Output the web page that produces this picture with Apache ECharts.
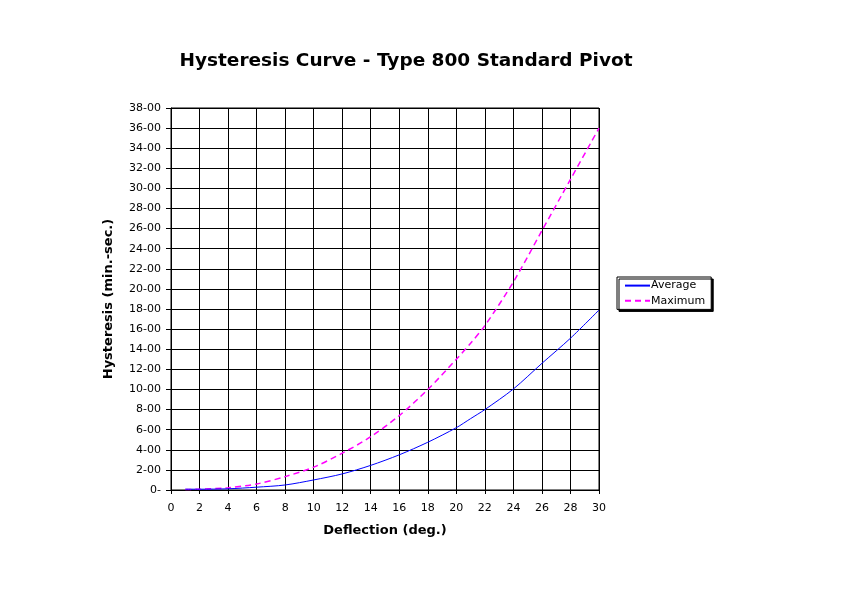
<!DOCTYPE html>
<html>
<head>
<meta charset="utf-8">
<script src="https://cdn.jsdelivr.net/npm/echarts@6/dist/echarts.min.js"></script>
<style>
html,body{margin:0;padding:0;background:#fff;}
#chart{width:843px;height:612px;}
</style>
</head>
<body>
<div id="chart"></div>
<script>
const deflection = [1, 2, 4, 6, 8, 10, 12, 14, 16, 18, 20, 21, 22, 24, 26, 28, 30];
const averageVals = [0.08, 0.08, 0.12, 0.28, 0.5, 1.0, 1.6, 2.45, 3.5, 4.75, 6.2, 7.1, 8.0, 10.05, 12.6, 15.1, 17.9];
const maximumVals = [0.05, 0.08, 0.22, 0.6, 1.33, 2.27, 3.66, 5.3, 7.4, 10.0, 13.0, 14.6, 16.35, 20.7, 25.8, 30.9, 36.0];
const seriesNames = ['Average', 'Maximum'];

const chart = echarts.init(document.getElementById('chart'));
const wide = 'DejaVu Sans, sans-serif';
chart.setOption({
  animation: false,
  backgroundColor: '#fff',
  title: {
    text: 'Hysteresis Curve - Type 800 Standard Pivot',
    left: 401, top: 47, textAlign: 'center',
    textStyle: {fontFamily: wide, fontSize: 18.5, fontWeight: 'bold', color: '#000'}
  },
  legend: {
    orient: 'vertical', left: 617, top: 277,
    backgroundColor: '#fff', borderColor: '#000', borderWidth: 1, borderRadius: 0,
    shadowColor: '#000', shadowOffsetX: 2, shadowOffsetY: 2, shadowBlur: 0,
    padding: [3, 6, 3, 7], itemGap: 4, itemWidth: 25, itemHeight: 14,
    itemStyle: {opacity: 0},
    data: seriesNames,
    textStyle: {fontFamily: wide, fontSize: 11, color: '#000', padding: [0, 0, 0, -4]}
  },
  grid: {left: 171, right: 244, top: 108, bottom: 122, show: true, borderColor: '#000', borderWidth: 1},
  xAxis: {
    type: 'value', min: 0, max: 30, interval: 2,
    name: 'Deflection (deg.)', nameLocation: 'middle', nameGap: 34,
    nameTextStyle: {fontFamily: wide, fontSize: 13, fontWeight: 'bold', color: '#000'},
    axisLine: {lineStyle: {color: '#000', width: 1}},
    axisTick: {show: true, length: 4, lineStyle: {color: '#000'}},
    axisLabel: {fontFamily: wide, fontSize: 11, color: '#000', margin: 13},
    splitLine: {show: true, lineStyle: {color: '#000', width: 1}}
  },
  yAxis: {
    type: 'value', min: 0, max: 38, interval: 2,
    name: 'Hysteresis (min.-sec.)', nameLocation: 'middle', nameGap: 56,
    nameTextStyle: {fontFamily: wide, fontSize: 13, fontWeight: 'bold', color: '#000'},
    axisLine: {show: true, lineStyle: {color: '#000', width: 1}},
    axisTick: {show: true, length: 5, lineStyle: {color: '#000'}},
    axisLabel: {fontFamily: wide, fontSize: 11, color: '#000', margin: 10,
      formatter: v => v === 0 ? '0-' : v + '-00'},
    splitLine: {show: true, lineStyle: {color: '#000', width: 1}}
  },
  series: [
    {
      name: seriesNames[0], type: 'line', smooth: 0.3, symbol: 'none',
      data: deflection.map((x, i) => [x, averageVals[i]]),
      lineStyle: {color: '#0000ff', width: 1}, itemStyle: {color: '#0000ff'}, z: 3
    },
    {
      name: seriesNames[1], type: 'line', smooth: 0.3, symbol: 'none',
      data: deflection.map((x, i) => [x, maximumVals[i]]),
      lineStyle: {color: '#ff00ff', width: 1.5, type: [6, 4]}, itemStyle: {color: '#ff00ff'}, z: 2
    }
  ]
});
</script>
</body>
</html>
